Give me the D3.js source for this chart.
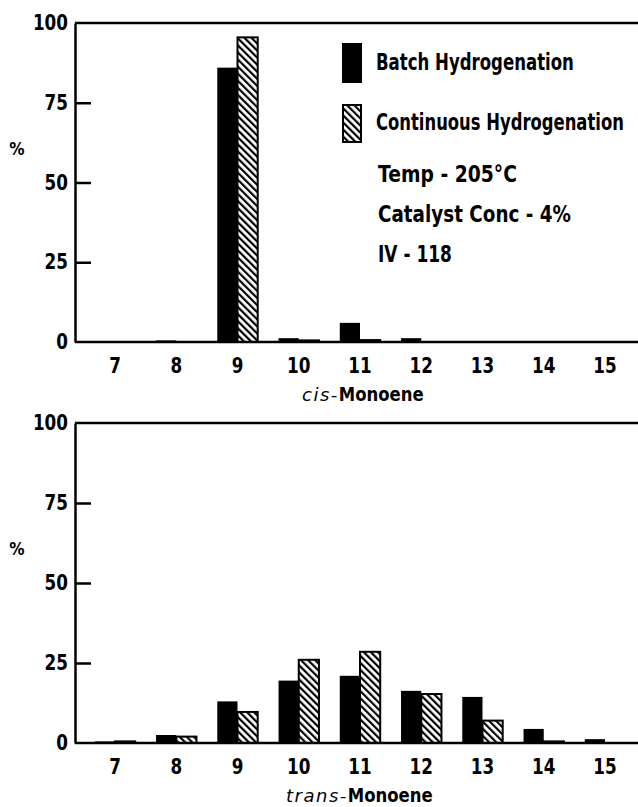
<!DOCTYPE html>
<html>
<head>
<meta charset="utf-8">
<script src="https://d3js.org/d3.v7.min.js"></script>
<style>
  body { margin: 0; background: #fff; }
  text { font-family: "DejaVu Sans", "Liberation Sans", sans-serif; font-weight: bold; fill: #000; }
  .tick line { stroke: #000; stroke-width: 2.5; }
  .domain { stroke: #000; stroke-width: 2.5; }
</style>
</head>
<body>
<div id="chartHere"></div>
<script>
  // chain-position categories
  var positions = ['7', '8', '9', '10', '11', '12', '13', '14', '15'];
  var yTicks = [0, 25, 50, 75, 100];

  // cis-Monoene (%)
  var cisBatch      = [0, 0.5, 86, 1.2, 6, 1.2, 0, 0, 0];
  var cisContinuous = [0, 0, 95.5, 0.5, 0.6, 0, 0, 0, 0];

  // trans-Monoene (%)
  var transBatch      = [0.5, 2.5, 13, 19.5, 21, 16.3, 14.4, 4.4, 1.2];
  var transContinuous = [0.5, 2, 9.7, 26, 28.5, 15.3, 7, 0.5, 0];

  var legendLabels = ['Batch Hydrogenation', 'Continuous Hydrogenation'];
  var conditions = ['Temp - 205\u00b0C', 'Catalyst Conc - 4%', 'IV - 118'];

  var W = 638, H = 807;
  var left = 75, right = 638;

  // printed widths of the condensed face, px
  var legendWidths = [198, 248];
  var condWidths = [139, 193, 74];

  var svg = d3.select('#chartHere').append('svg')
      .attr('width', W).attr('height', H);

  // squeeze text horizontally, the original uses a condensed face
  function squeeze(sel, perChar) {
    sel.attr('textLength', function () { return this.getComputedTextLength() * perChar; })
       .attr('lengthAdjust', 'spacingAndGlyphs');
  }

  // condensed text placed by transform so its box is the real printed width
  function narrowText(parent, str, x0, y0, size, width) {
    var t = parent.append('text')
      .text(str)
      .style('font-size', size + 'px');
    var k = width / t.node().getComputedTextLength();
    t.attr('transform', 'translate(' + x0 + ',' + y0 + ') scale(' + k + ',1)');
    return t;
  }

  var defs = svg.append('defs');
  defs.append('pattern')
      .attr('id', 'hatch')
      .attr('patternUnits', 'userSpaceOnUse')
      .attr('width', 5).attr('height', 5)
      .attr('patternTransform', 'rotate(-45)')
    .call(function (p) {
      p.append('rect').attr('width', 5).attr('height', 5).attr('fill', '#fff');
      p.append('rect').attr('width', 2.2).attr('height', 5).attr('fill', '#000');
    });

  var x = d3.scalePoint().domain(positions).range([115, 605]);
  var barW = x.step() * 0.33;

  function panel(top, bottom, batch, cont, italicPart, boldPart) {
    var y = d3.scaleLinear().domain([0, 100]).range([bottom, top]);
    var g = svg.append('g');

    g.append('line')
      .attr('x1', left).attr('x2', right)
      .attr('y1', y(100)).attr('y2', y(100))
      .attr('stroke', '#000').attr('stroke-width', 2.5);

    g.selectAll('rect.batch')
      .data(batch)
      .enter().append('rect')
      .attr('class', 'batch')
      .attr('x', function (d, i) { return x(positions[i]) - barW; })
      .attr('y', function (d) { return y(d); })
      .attr('width', barW)
      .attr('height', function (d) { return y(0) - y(d); })
      .attr('fill', '#000');

    g.selectAll('rect.cont')
      .data(cont)
      .enter().append('rect')
      .attr('class', 'cont')
      .attr('x', function (d, i) { return x(positions[i]); })
      .attr('y', function (d) { return y(d); })
      .attr('width', barW)
      .attr('height', function (d) { return y(0) - y(d); })
      .attr('fill', 'url(#hatch)')
      .attr('stroke', function (d) { return d > 0 ? '#000' : 'none'; })
      .attr('stroke-width', 2);

    g.append('line')
      .attr('x1', left).attr('x2', right)
      .attr('y1', y(0)).attr('y2', y(0))
      .attr('stroke', '#000').attr('stroke-width', 2.5);

    var yAxis = d3.axisLeft(y)
      .tickValues(yTicks)
      .tickSizeInner(-16)
      .tickSizeOuter(0)
      .tickPadding(7);

    var ax = g.append('g')
      .attr('transform', 'translate(' + left + ',0)')
      .call(yAxis);
    ax.selectAll('.tick text')
      .style('font-size', '21px')
      .call(squeeze, 0.8);
    ax.selectAll('.tick')
      .filter(function (d) { return d === 0 || d === 100; })
      .select('line').remove();

    g.append('text')
      .text('%')
      .attr('x', 17).attr('y', (top + bottom) / 2 - 28)
      .attr('text-anchor', 'middle')
      .style('font-size', '18px')
      .call(squeeze, 0.85);

    g.selectAll('text.xlab')
      .data(positions)
      .enter().append('text')
      .attr('class', 'xlab')
      .text(function (d) { return d; })
      .attr('x', function (d) { return x(d); })
      .attr('y', bottom + 31)
      .attr('text-anchor', 'middle')
      .style('font-size', '21px')
      .call(squeeze, 0.8);

    // axis title: italic light prefix + bold word
    var tx = italicPart === 'cis' ? 302 : 286;
    var it = g.append('text')
      .text(italicPart + '-')
      .attr('x', tx).attr('y', bottom + 59)
      .style('font-style', 'italic').style('font-weight', 'normal')
      .style('font-size', '18px')
      .attr('letter-spacing', '1.5');
    var itW = it.node().getComputedTextLength();
    narrowText(g, boldPart, tx + itW, bottom + 59, 20, 85);

    return y;
  }

  panel(23, 342, cisBatch, cisContinuous, 'cis', 'Monoene');
  panel(423, 743, transBatch, transContinuous, 'trans', 'Monoene');

  // legend
  var legend = svg.append('g');
  legend.append('rect')
    .attr('x', 342).attr('y', 43).attr('width', 20).attr('height', 40)
    .attr('fill', '#000');
  legend.append('rect')
    .attr('x', 343).attr('y', 105).attr('width', 18).attr('height', 37)
    .attr('fill', 'url(#hatch)').attr('stroke', '#000').attr('stroke-width', 2);

  legendLabels.forEach(function (d, i) {
    narrowText(legend, d, 376, 70 + i * 60, 23, legendWidths[i]);
  });
  conditions.forEach(function (d, i) {
    narrowText(legend, d, 378, 182 + i * 40, 23, condWidths[i]);
  });
</script>
</body>
</html>
